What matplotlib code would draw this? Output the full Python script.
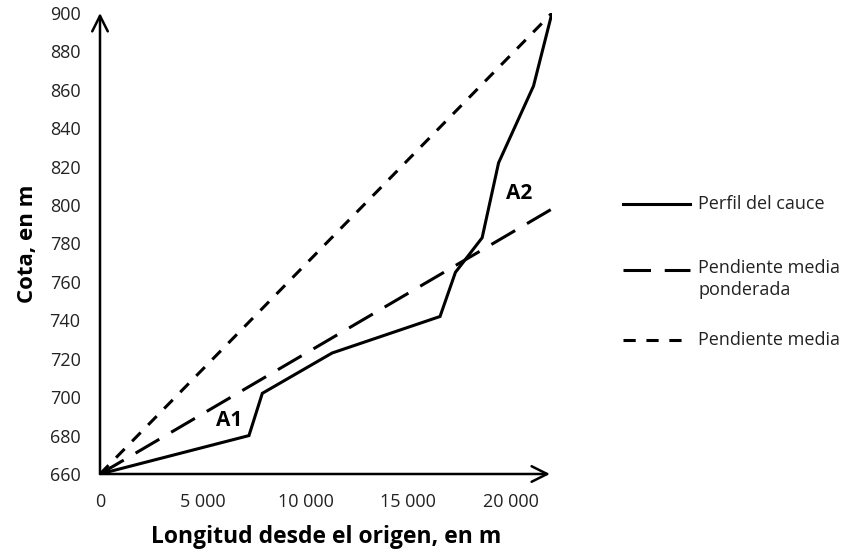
import matplotlib.pyplot as plt
from matplotlib.lines import Line2D

# Perfil del cauce (longitud en m, cota en m)
perfil_x = [0, 7250, 7900, 11300, 16550, 17300, 18600, 19400, 21100, 22000]
perfil_y = [660, 680, 702, 723, 742, 765, 783, 822, 862, 900]

# pendiente media ponderada y pendiente media
ponderada_x = [0, 22000]
ponderada_y = [660, 798]
media_x = [0, 22000]
media_y = [660, 900]

x_ticks = [0, 5000, 10000, 15000, 20000]
x_labels = ["0", "5 000", "10 000", "15 000", "20 000"]
y_ticks = list(range(660, 901, 20))

FONT = "Open Sans"
plt.rcParams['font.family'] = [FONT, 'DejaVu Sans']

fig = plt.figure(figsize=(8.56, 5.56), dpi=100)
ax = fig.add_axes([100/856, 82/556, 452/856, 461/556])

lw = 2.2
ax.plot(perfil_x, perfil_y, color='black', lw=lw, solid_joinstyle='miter')
ax.plot(ponderada_x, ponderada_y, color='black', lw=lw, dashes=(9, 4.5))
ax.plot(media_x, media_y, color='black', lw=lw, dashes=(4, 3.5))

ax.set_xlim(0, 22000)
ax.set_ylim(660, 900)
for s in ax.spines.values():
    s.set_visible(False)

# ejes con flecha
arrow = dict(arrowstyle='->', color='black', lw=1.8, mutation_scale=28, shrinkA=0, shrinkB=0)
ax.annotate('', xy=(0, 900), xytext=(0, 660), arrowprops=arrow, annotation_clip=False)
ax.annotate('', xy=(21900, 660), xytext=(0, 660), arrowprops=arrow, annotation_clip=False)

ax.set_xticks(x_ticks)
ax.set_xticklabels(x_labels)
ax.set_yticks(y_ticks)
ax.tick_params(length=0, labelsize=13, colors='#222222')
ax.tick_params(axis='y', pad=14)
ax.tick_params(axis='x', pad=14)

ax.set_xlabel("Longitud desde el origen, en m", fontsize=16.5, fontweight='bold', labelpad=10)
ax.set_ylabel("Cota, en m", fontsize=16, fontweight='bold', labelpad=8)

ax.text(6300, 688, "A1", fontsize=15, fontweight='bold', ha='center', va='center')
ax.text(20400, 806, "A2", fontsize=15, fontweight='bold', ha='center', va='center')

# leyenda
def fy(p):
    return 1 - p / 556

items = [
    (204, None, "Perfil del cauce"),
    (270, (9, 4.5), "Pendiente media\nponderada"),
    (340, (4, 3.5), "Pendiente media"),
]
for ypix, dash, label in items:
    ln = Line2D([623/856, 690/856], [fy(ypix), fy(ypix)], transform=fig.transFigure,
                color='black', lw=lw)
    if dash is not None:
        ln.set_dashes(dash)
    fig.add_artist(ln)
    multi = '\n' in label
    ty = fy(ypix - 11) if multi else fy(ypix)
    fig.text(698/856, ty, label, fontsize=13, color='#222222',
             ha='left', va='top' if multi else 'center', linespacing=1.3)

fig.savefig("out.png", dpi=100)
